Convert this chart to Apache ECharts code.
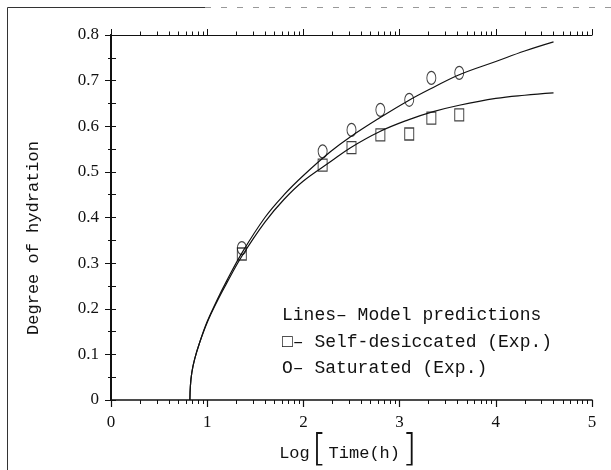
<!DOCTYPE html>
<html><head><meta charset="utf-8">
<script src="https://cdn.jsdelivr.net/npm/echarts@6/dist/echarts.min.js"></script>
<style>html,body{margin:0;padding:0;background:#fff}#c{width:611px;height:470px}</style>
</head><body><div id="c"></div>
<script>
// ---- data ----
const xTickLabels = ['0', '1', '2', '3', '4', '5'];
const yTickLabels = ['0', '0.1', '0.2', '0.3', '0.4', '0.5', '0.6', '0.7', '0.8'];
const sampleLogTime = [1.36, 2.2, 2.5, 2.8, 3.1, 3.33, 3.62];
const selfDesiccated = [0.32, 0.515, 0.553, 0.581, 0.583, 0.618, 0.625];
const saturated = [0.333, 0.545, 0.592, 0.636, 0.658, 0.706, 0.717];
const modelSelfX = [0.82, 0.825, 0.84, 0.87, 0.92, 1.0, 1.1, 1.2, 1.36, 1.6, 1.8, 2.0, 2.28, 2.49, 2.79, 3.09, 3.35, 3.62, 4.0, 4.3, 4.6];
const modelSelfY = [0, 0.03, 0.06, 0.09, 0.125, 0.17, 0.215, 0.255, 0.315, 0.39, 0.44, 0.48, 0.522, 0.553, 0.588, 0.614, 0.632, 0.646, 0.661, 0.668, 0.673];
const modelSatX = [0.82, 0.825, 0.84, 0.87, 0.92, 1.0, 1.1, 1.2, 1.36, 1.6, 1.8, 2.0, 2.28, 2.49, 2.79, 3.09, 3.35, 3.62, 4.0, 4.3, 4.6];
const modelSatY = [0, 0.03, 0.06, 0.09, 0.125, 0.172, 0.218, 0.26, 0.322, 0.4, 0.45, 0.492, 0.544, 0.577, 0.618, 0.656, 0.685, 0.713, 0.742, 0.765, 0.785];
const legendLines = ['Lines\u2013 Model predictions', '\u25A1\u2013 Self-desiccated (Exp.)', 'O\u2013 Saturated (Exp.)'];
const yTitle = 'Degree of hydration';

// log-decade minor tick positions on the time axis
const logMinor = [];
for (let d = 0; d < 5; d++) for (let k = 2; k <= 9; k++) logMinor.push(d + Math.log10(k));

const zip = (a, b) => a.map((v, i) => [v, b[i]]);
const ink = '#111';
const serif = '"Liberation Serif", serif';
const mono = '"Liberation Mono", "DejaVu Sans Mono", monospace';

const chart = echarts.init(document.getElementById('c'), null, {renderer: 'canvas'});
const baseX = {type: 'value', min: 0, max: 5, interval: 1, splitLine: {show: false}};
const baseY = {type: 'value', min: 0, max: 0.8, splitLine: {show: false}};
chart.setOption({
  backgroundColor: '#fff',
  animation: false,
  grid: {left: 111, right: 19, top: 35, bottom: 70, containLabel: false},
  xAxis: [
    Object.assign({}, baseX, {position: 'bottom',
      axisLine: {lineStyle: {color: ink, width: 1.5}},
      axisTick: {inside: false, length: 7, lineStyle: {color: ink, width: 1.2}},
      axisLabel: {color: ink, fontFamily: serif, fontSize: 17, margin: 14,
        formatter: v => xTickLabels[Math.round(v)]}}),
    Object.assign({}, baseX, {position: 'bottom',
      axisLine: {show: false}, axisLabel: {show: false},
      axisTick: {inside: false, length: 4, customValues: logMinor, lineStyle: {color: ink, width: 1}}}),
    Object.assign({}, baseX, {position: 'top',
      axisLine: {lineStyle: {color: ink, width: 1.2}},
      axisTick: {inside: false, length: 6, lineStyle: {color: ink, width: 1}},
      axisLabel: {show: false}}),
    Object.assign({}, baseX, {position: 'top',
      axisLine: {show: false}, axisLabel: {show: false},
      axisTick: {inside: false, length: 3.5, customValues: logMinor, lineStyle: {color: ink, width: 1}}})
  ],
  yAxis: [
    Object.assign({}, baseY, {position: 'left', interval: 0.1,
      axisLine: {lineStyle: {color: ink, width: 2}},
      axisTick: {inside: false, length: 6, lineStyle: {color: ink, width: 1}},
      minorTick: {show: true, splitNumber: 2, length: 3, lineStyle: {color: ink, width: 1}},
      axisLabel: {color: ink, fontFamily: serif, fontSize: 17, margin: 12,
        formatter: v => yTickLabels[Math.round(v * 10)]}}),
    Object.assign({}, baseY, {position: 'right', interval: 0.05,
      axisLine: {lineStyle: {color: ink, width: 2}},
      axisTick: {inside: false, length: 5, lineStyle: {color: ink, width: 1}},
      axisLabel: {show: false}})
  ],
  series: [
    {type: 'line', data: zip(modelSelfX, modelSelfY), smooth: 0.4, showSymbol: false,
      lineStyle: {color: ink, width: 1.2}, silent: true},
    {type: 'line', data: zip(modelSatX, modelSatY), smooth: 0.4, showSymbol: false,
      lineStyle: {color: ink, width: 1.2}, silent: true},
    {type: 'scatter', data: zip(sampleLogTime, selfDesiccated), symbol: 'rect', symbolSize: [9, 12],
      itemStyle: {color: 'rgba(255,255,255,0)', borderColor: ink, borderWidth: 1.1}},
    {type: 'scatter', data: zip(sampleLogTime, saturated), symbol: 'circle', symbolSize: [9, 13],
      itemStyle: {color: 'rgba(255,255,255,0)', borderColor: ink, borderWidth: 1.1}}
  ],
  graphic: [
    {type: 'line', shape: {x1: 7.5, y1: 7.5, x2: 7.5, y2: 470}, style: {stroke: '#333', lineWidth: 1}, silent: true},
    {type: 'line', shape: {x1: 7.5, y1: 7.5, x2: 205, y2: 7.5}, style: {stroke: '#333', lineWidth: 1}, silent: true},
    {type: 'line', shape: {x1: 205, y1: 7.5, x2: 611, y2: 7.5}, style: {stroke: '#999', lineWidth: 1, lineDash: [6, 10]}, silent: true},
    {type: 'text', x: 33, y: 238, rotation: Math.PI / 2,
      style: {text: yTitle, fontFamily: mono, fontSize: 17, fill: ink, textAlign: 'center', textVerticalAlign: 'middle'}},
    {type: 'text', x: 347, y: 450,
      style: {text: '{a|Log}{b|[}{a|Time(h)}{b|]}', textAlign: 'center', textVerticalAlign: 'middle',
        rich: {a: {fontFamily: mono, fontSize: 17, fill: ink, padding: [6, 2, 0, 2]},
               b: {fontFamily: '"DejaVu Sans"', fontWeight: 200, fontSize: 38, fill: ink}}}},
    {type: 'text', x: 282, y: 315, style: {text: legendLines[0], fontFamily: mono, fontSize: 18, fill: ink, textAlign: 'left', textVerticalAlign: 'middle'}},
    {type: 'text', x: 282, y: 342, style: {text: legendLines[1], fontFamily: mono, fontSize: 18, fill: ink, textAlign: 'left', textVerticalAlign: 'middle'}},
    {type: 'text', x: 282, y: 368, style: {text: legendLines[2], fontFamily: mono, fontSize: 18, fill: ink, textAlign: 'left', textVerticalAlign: 'middle'}}
  ]
});
</script></body></html>
